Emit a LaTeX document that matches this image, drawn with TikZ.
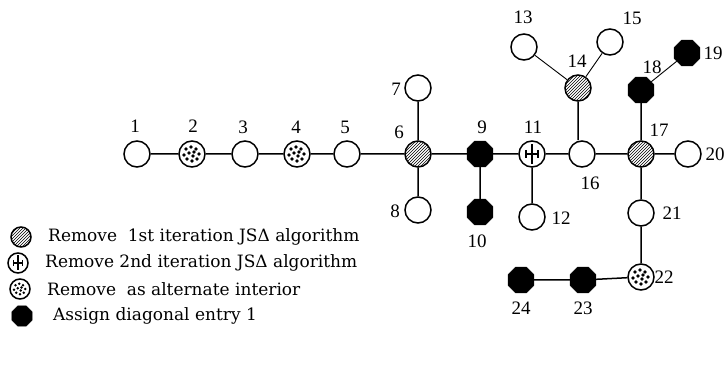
\documentclass[tikz,border=0pt]{standalone}
\usepackage{fontspec}
\setmainfont{Liberation Serif}
\newfontfamily\legfont{DejaVu Serif}
\usetikzlibrary{shapes.geometric,patterns}
\newcommand\speckle[2]{\foreach \a/\b in {-6/-5,-1/-7,4/-5,-8/1,-3/-1,2/-2,7/0,-5/5,0/7,5/5,1/2}{\fill ([shift={(#2*\a,#2*\b)}]#1.center) circle (#2*1.8pt);}}
\newcommand\plusmark[2]{\begin{scope}[shift={(#1.center)},line width=1.1pt]
 \draw (0,-10*#2) -- (0,10*#2);
 \draw (-6*#2,0) -- (6*#2,0);
 \draw (-6*#2,-4*#2) -- (-6*#2,4*#2);
 \draw (6*#2,-4*#2) -- (6*#2,4*#2);
 \end{scope}}
\begin{document}
\begin{tikzpicture}[x=1pt,y=-1pt,
 edge/.style={line width=1.5pt},
 thinedge/.style={line width=0.9pt},
 vx/.style={circle,draw,line width=1.5pt,minimum size=26pt,inner sep=0pt,fill=white},
 blk/.style={regular polygon,regular polygon sides=8,draw,fill=black,minimum size=28pt,inner sep=0pt},
 hatch/.style={vx,preaction={fill=white},pattern=north east lines},
 lab/.style={font=\fontsize{19}{19}\selectfont,inner sep=0pt},
 leg/.style={font=\legfont\fontsize{17}{17}\selectfont,anchor=west,inner sep=0pt},
 sv/.style={vx,minimum size=20pt},
 sblk/.style={blk,minimum size=22pt},
 shatch/.style={hatch,minimum size=20pt}
]
\useasboundingbox (0,0) rectangle (724,374);
% nodes
\node[vx] (n1) at (137,154) {};
\node[vx] (n2) at (192,154) {};
\node[vx] (n3) at (245,154) {};
\node[vx] (n4) at (297,154) {};
\node[vx] (n5) at (347,154) {};
\node[hatch] (n6) at (418,154) {};
\node[vx] (n7) at (418,88) {};
\node[vx] (n8) at (418,210) {};
\node[blk] (n9) at (480,154) {};
\node[blk] (n10) at (480,212) {};
\node[vx] (n11) at (532,154) {};
\node[vx] (n12) at (532,217) {};
\node[vx] (n13) at (524,47) {};
\node[hatch] (n14) at (578,88) {};
\node[vx] (n15) at (610,42) {};
\node[vx] (n16) at (582,154) {};
\node[hatch] (n17) at (641,154) {};
\node[blk] (n18) at (641,90) {};
\node[blk] (n19) at (687,53) {};
\node[vx] (n20) at (688,154) {};
\node[vx] (n21) at (641,213) {};
\node[vx] (n22) at (641,277) {};
\node[blk] (n23) at (583,280) {};
\node[blk] (n24) at (521,280) {};
% edges
\draw[edge] (n1) -- (n2) (n2) -- (n3) (n3) -- (n4) (n4) -- (n5) (n5) -- (n6)
  (n6) -- (n9) (n9) -- (n11) (n11) -- (n16) (n16) -- (n17) (n17) -- (n20)
  (n6) -- (n7) (n6) -- (n8) (n9) -- (n10) (n11) -- (n12)
  (n14) -- (n14 |- n16.north) (n17) -- (n18) (n17) -- (n21) (n21) -- (n22)
  (n22) -- (n23) (n23) -- (n24);
\draw[thinedge] (n14) -- (n13) (n14) -- (n15) (n18) -- (n19);
\speckle{n2}{1}
\speckle{n4}{1}
\speckle{n22}{1}
\plusmark{n11}{1}
% labels
\node[lab] (l1) at (135,126) {1};
\node[lab] (l2) at (193,126) {2};
\node[lab] (l3) at (243,127) {3};
\node[lab] (l4) at (296,127) {4};
\node[lab] (l5) at (345,127) {5};
\node[lab] (l6) at (399,132) {6};
\node[lab] (l7) at (396,89) {7};
\node[lab] (l8) at (395,211) {8};
\node[lab] (l9) at (482,127) {9};
\node[lab] (l10) at (477,241) {10};
\node[lab] (l11) at (533,127) {11};
\node[lab] (l12) at (561,218) {12};
\node[lab] (l13) at (523,17) {13};
\node[lab] (l14) at (577,61) {14};
\node[lab] (l15) at (632,18) {15};
\node[lab] (l16) at (590,183) {16};
\node[lab] (l17) at (659,130) {17};
\node[lab] (l18) at (652,67) {18};
\node[lab] (l19) at (713,53) {19};
\node[lab] (l20) at (715,154) {20};
\node[lab] (l21) at (672,213) {21};
\node[lab] (l22) at (664,277) {22};
\node[lab] (l23) at (583,308) {23};
\node[lab] (l24) at (521,308) {24};
% legend
\node[shatch] (g1) at (21,237) {};
\node[sv] (g2) at (18,263) {};
\plusmark{g2}{0.75}
\node[sv] (g3) at (20,289) {};
\speckle{g3}{0.75}
\node[sblk] (g4) at (22,316) {};
\node[leg] (t1) at (48,237) {Remove\ \ 1st iteration JSΔ algorithm};
\node[leg] (t2) at (45,263) {Remove\ 2nd iteration JSΔ algorithm};
\node[leg] (t3) at (47,289) {Remove\ \ as alternate interior};
\node[leg] (t4) at (53,316) {Assign diagonal entry 1};
\end{tikzpicture}
\end{document}
